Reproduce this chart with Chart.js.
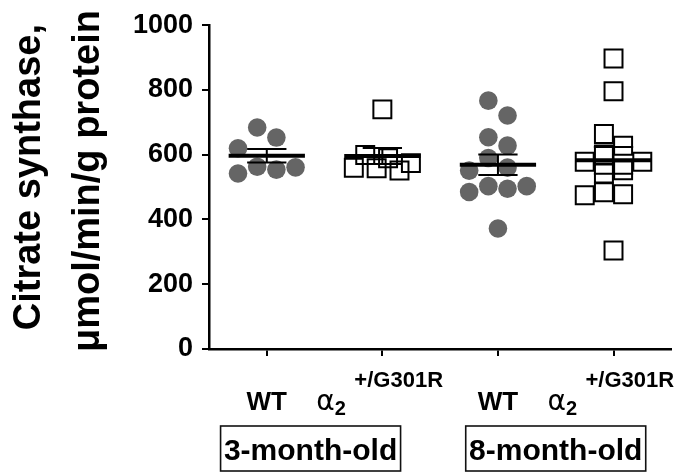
<!DOCTYPE html>
<html lang="en">
<head>
<meta charset="UTF-8">
<title>Citrate synthase activity</title>
<script src="https://cdn.jsdelivr.net/npm/chart.js"></script>
<style>
    body { margin: 0; background: #ffffff; }
    #wrap { width: 686px; height: 473px; }
</style>
</head>
<body>
<div id="wrap"><canvas id="csChart" width="686" height="473"></canvas></div>
<script>
// x categories: genotype under each column, age in the boxes below
const genotypes = ['WT', 'alpha', 'WT', 'alpha'];
const ages = ['3-month-old', '8-month-old'];
const yTicks = [0, 200, 400, 600, 800, 1000];

// one value per animal, umol/min/g protein
const wt3 = [684, 653, 563, 554, 620, 542, 561];
const mut3 = [740, 558, 589, 599, 551, 560, 574];
const wt8 = [767, 721, 654, 628, 590, 560, 551, 503, 503, 495, 485, 372];
const mut8 = [897, 796, 664, 628, 601, 578, 578, 552, 542, 484, 478, 475, 304];

const groups = [wt3, mut3, wt8, mut8];
const FONT = '"Liberation Sans", Arial, sans-serif';

// simple beeswarm: put each point in the nearest free column
function swarm(values, gap) {
    const order = [-0.5, 0.5, -1.5, 1.5, -2.5, 2.5, -3.5, 3.5];
    const slots = [];
    values.forEach((v, i) => {
        const alone = !values.some((w, j) => j !== i && Math.abs(w - v) < gap);
        if (alone) { slots.push(0); return; }
        const s = order.find(c => !slots.some((p, j) => p === c && Math.abs(values[j] - v) < gap));
        slots.push(s);
    });
    const widest = Math.max(...slots.map(Math.abs));
    const step = widest > 1.5 ? 0.247 / widest : 0.166;
    return slots.map(s => s * step);
}

function mean(a) { return a.reduce((s, v) => s + v, 0) / a.length; }
function sem(a) {
    const m = mean(a);
    const sd = Math.sqrt(a.reduce((s, v) => s + (v - m) * (v - m), 0) / (a.length - 1));
    return sd / Math.sqrt(a.length);
}

const datasets = groups.map((vals, i) => {
    const off = swarm(vals, 58);
    const circle = genotypes[i] === 'WT';
    return {
        data: vals.map((v, k) => ({ x: i + off[k], y: v })),
        pointStyle: circle ? 'circle' : 'rect',
        pointRadius: circle ? 9.3 : 12.7,
        pointBackgroundColor: circle ? '#656565' : 'rgba(0,0,0,0)',
        pointBorderColor: circle ? '#656565' : '#000000',
        pointBorderWidth: circle ? 0 : 2
    };
});

// mean line + SEM bars drawn over the points
const meanBars = {
    id: 'meanBars',
    afterDatasetsDraw(chart) {
        const { ctx, scales: { x, y } } = chart;
        ctx.save();
        ctx.strokeStyle = '#000';
        groups.forEach((vals, i) => {
            const m = mean(vals), e = sem(vals);
            const yM = y.getPixelForValue(m);
            const yT = y.getPixelForValue(m + e);
            const yB = y.getPixelForValue(m - e);
            ctx.lineWidth = 2;
            ctx.beginPath();
            ctx.moveTo(x.getPixelForValue(i), yT);
            ctx.lineTo(x.getPixelForValue(i), yB);
            [yT, yB].forEach(yy => {
                ctx.moveTo(x.getPixelForValue(i - 0.17), yy);
                ctx.lineTo(x.getPixelForValue(i + 0.17), yy);
            });
            ctx.stroke();
            ctx.lineWidth = 4;
            ctx.beginPath();
            ctx.moveTo(x.getPixelForValue(i - 0.33), yM);
            ctx.lineTo(x.getPixelForValue(i + 0.33), yM);
            ctx.stroke();
        });
        ctx.restore();
    }
};

// axis title, genotype labels and the age boxes
const labels = {
    id: 'labels',
    afterDraw(chart) {
        const { ctx, chartArea, scales: { x } } = chart;
        const base = chartArea.bottom;
        const mid = (chartArea.top + chartArea.bottom) / 2;
        ctx.save();
        ctx.fillStyle = '#000';
        ctx.textBaseline = 'alphabetic';

        // y title, two rotated lines
        ctx.font = 'bold 38px ' + FONT;
        ctx.textAlign = 'center';
        [['Citrate synthase,', 40, -10], ['\u03bcmol/min/g protein', 99, -6]].forEach(([t, bx, dy]) => {
            ctx.save();
            ctx.translate(bx, mid + dy);
            ctx.rotate(-Math.PI / 2);
            ctx.fillText(t, 0, 0);
            ctx.restore();
        });

        genotypes.forEach((g, i) => {
            const cx = x.getPixelForValue(i);
            if (g === 'WT') {
                ctx.font = 'bold 26px ' + FONT;
                ctx.textAlign = 'center';
                ctx.fillText('WT', cx, base + 61);
                return;
            }
            // alpha-2 with the allele as superscript
            let left = cx - 66;
            ctx.textAlign = 'left';
            ctx.font = '28px "DejaVu Sans"';
            ctx.fillText('\u03b1', left, base + 61);
            left += ctx.measureText('\u03b1').width;
            ctx.font = 'bold 20px ' + FONT;
            ctx.fillText('2', left, base + 66);
            ctx.font = 'bold 22px ' + FONT;
            ctx.fillText('+/G301R', cx - 28, base + 38);
        });

        // age boxes under each pair of columns
        const shift = [-14, 0];
        ages.forEach((a, k) => {
            const cx = (x.getPixelForValue(2 * k) + x.getPixelForValue(2 * k + 1)) / 2 + shift[k];
            ctx.lineWidth = 1.6;
            ctx.strokeStyle = '#111';
            ctx.strokeRect(cx - 90, base + 77, 180, 45);
            ctx.font = 'bold 30px ' + FONT;
            ctx.textAlign = 'center';
            ctx.fillText(a, cx, base + 111);
        });
        ctx.restore();
    }
};

new Chart(document.getElementById('csChart'), {
    type: 'scatter',
    data: { datasets: datasets },
    options: {
        responsive: false,
        animation: false,
        devicePixelRatio: 1,
        layout: { padding: { top: 23, right: 7, left: 0, bottom: 0 } },
        plugins: { legend: { display: false }, tooltip: { enabled: false } },
        scales: {
            x: {
                type: 'linear',
                min: -0.5,
                max: 3.5,
                afterBuildTicks: s => { s.ticks = genotypes.map((g, i) => ({ value: i })); },
                ticks: { display: false },
                grid: { drawOnChartArea: false, drawTicks: true, tickLength: 7, color: '#000', lineWidth: 2 },
                border: { color: '#000', width: 2.5 },
                afterFit: s => { s.height = 124; }
            },
            y: {
                min: 0,
                max: 1000,
                afterBuildTicks: s => { s.ticks = yTicks.map(v => ({ value: v })); },
                ticks: {
                    color: '#000',
                    padding: 9,
                    font: { family: FONT, size: 27, weight: 'bold' },
                    callback: v => String(v)
                },
                grid: { drawOnChartArea: false, drawTicks: true, tickLength: 7, color: '#000', lineWidth: 2 },
                border: { color: '#000', width: 2.5 },
                afterFit: s => { s.width = 209; }
            }
        }
    },
    plugins: [meanBars, labels]
});
</script>
</body>
</html>
